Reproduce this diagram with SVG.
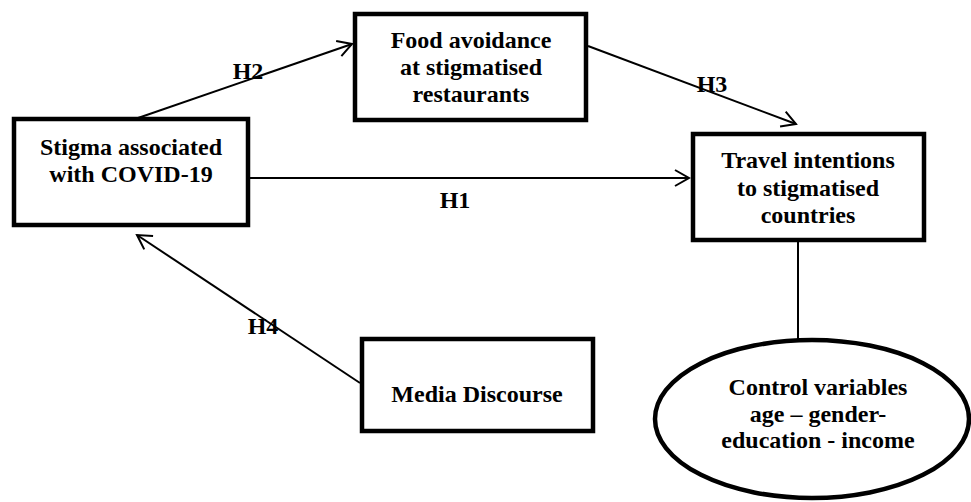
<svg xmlns="http://www.w3.org/2000/svg" width="971" height="502" viewBox="0 0 971 502">
<style>
.box{fill:#fff;stroke:#000;stroke-width:4.5}
.t{font-family:"Liberation Serif","Times New Roman",serif;font-weight:bold;font-size:24px;fill:#000;text-anchor:middle}
.c{fill:none;stroke:#000;stroke-width:2}
</style>
<defs>
<marker id="ah" markerUnits="userSpaceOnUse" markerWidth="20" markerHeight="20" viewBox="0 0 20 20" refX="18" refY="10" orient="auto">
<path d="M4,2 L18,10 L4,18" fill="none" stroke="#000" stroke-width="2"/>
</marker>
</defs>
<rect width="971" height="502" fill="#fff"/>
<g id="connectors">
<line class="c" x1="138" y1="118" x2="352" y2="44" marker-end="url(#ah)"/>
<line class="c" x1="588" y1="46" x2="796" y2="124" marker-end="url(#ah)"/>
<line class="c" x1="250" y1="178" x2="689" y2="178" marker-end="url(#ah)"/>
<line class="c" x1="360" y1="383" x2="137" y2="235" marker-end="url(#ah)"/>
<line class="c" x1="798" y1="242" x2="798" y2="339"/>
<text class="t" x="248" y="79">H2</text>
<text class="t" x="712" y="92">H3</text>
<text class="t" x="455" y="208">H1</text>
<text class="t" x="263" y="334">H4</text>
</g>
<g id="stigma">
<rect class="box" x="14" y="119" width="234" height="106"/>
<text class="t" x="131" y="155">Stigma associated</text>
<text class="t" x="131" y="182">with COVID-19</text>
</g>
<g id="food">
<rect class="box" x="355" y="14" width="231" height="106"/>
<text class="t" x="471" y="48">Food avoidance</text>
<text class="t" x="471" y="75">at stigmatised</text>
<text class="t" x="471" y="102">restaurants</text>
</g>
<g id="travel">
<rect class="box" x="693" y="134" width="231" height="106"/>
<text class="t" x="808" y="168">Travel intentions</text>
<text class="t" x="808" y="196">to stigmatised</text>
<text class="t" x="808" y="223">countries</text>
</g>
<g id="media">
<rect class="box" x="362" y="339" width="231" height="92"/>
<text class="t" x="477" y="402">Media Discourse</text>
</g>
<g id="control">
<ellipse class="box" cx="812" cy="419" rx="157" ry="79"/>
<text class="t" x="818" y="395">Control variables</text>
<text class="t" x="818" y="422">age – gender-</text>
<text class="t" x="818" y="448">education - income</text>
</g>
</svg>
